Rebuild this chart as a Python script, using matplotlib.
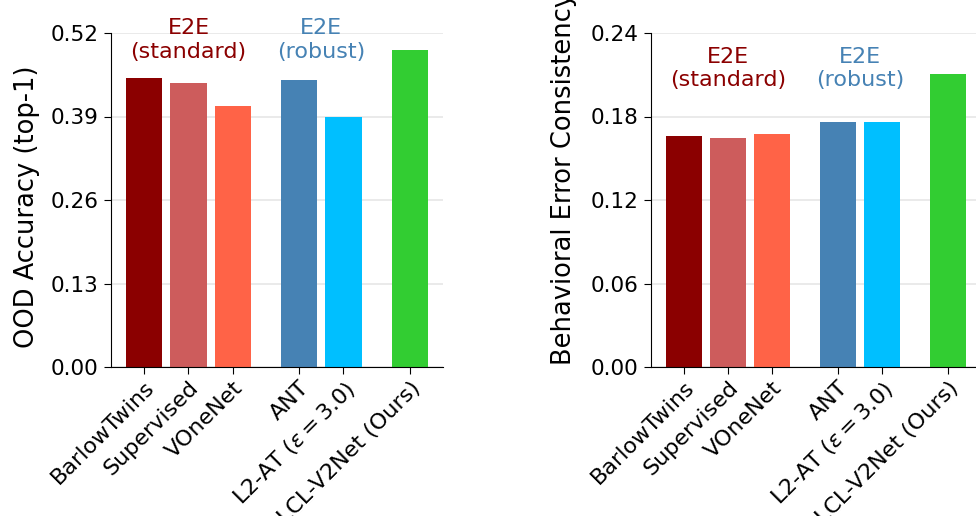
import numpy as np
import matplotlib.pyplot as plt

models = ["BarlowTwins", "Supervised", "VOneNet", "ANT",
          r"L2-AT ($\epsilon=3.0$)", "LCL-V2Net (Ours)"]
positions = [0, 1, 2, 3.5, 4.5, 6]
colors = ["darkred", "indianred", "tomato", "steelblue", "deepskyblue", "limegreen"]

ood_acc = [0.450, 0.442, 0.406, 0.447, 0.390, 0.494]
err_consistency = [0.166, 0.1645, 0.1675, 0.176, 0.176, 0.2105]

fig = plt.figure(figsize=(9.76, 5.16), dpi=100)
ax1 = fig.add_axes([111 / 976, 1 - 367 / 516, 332 / 976, 334 / 516])
ax2 = fig.add_axes([651 / 976, 1 - 367 / 516, 330 / 976, 334 / 516])


def draw(ax, vals, ymax, ylabel, label_y, ylab_pos):
    ax.grid(axis="y", color="#e6e6e6", linewidth=1.2, zorder=0)
    ax.bar(positions, vals, width=0.82, color=colors, zorder=2)
    ax.set_xlim(-0.75, 6.75)
    ax.set_ylim(0, ymax)
    ticks = np.linspace(0, ymax, 5)
    ax.set_yticks(ticks)
    ax.set_yticklabels([f"{t:.2f}" for t in ticks])
    ax.set_xticks(positions)
    ax.set_xticklabels(models, rotation=45, ha="right", rotation_mode="anchor")
    ax.tick_params(axis="y", labelsize=15.5, length=5, pad=4)
    ax.tick_params(axis="x", labelsize=16, length=5, pad=2.5)
    ax.set_ylabel(ylabel, fontsize=18.5)
    ax.yaxis.set_label_coords(*ylab_pos)
    for s in ["top", "right"]:
        ax.spines[s].set_visible(False)
    ax.text(1, label_y, "E2E\n(standard)", color="darkred", ha="center",
            va="center", fontsize=16)
    ax.text(4, label_y, "E2E\n(robust)", color="steelblue", ha="center",
            va="center", fontsize=16)


draw(ax1, ood_acc, 0.52, "OOD Accuracy (top-1)", 0.509, (-0.215, 0.48))
draw(ax2, err_consistency, 0.24, "Behavioral Error Consistency", 0.2146, (-0.225, 0.565))

fig.savefig("out.png", dpi=100)
